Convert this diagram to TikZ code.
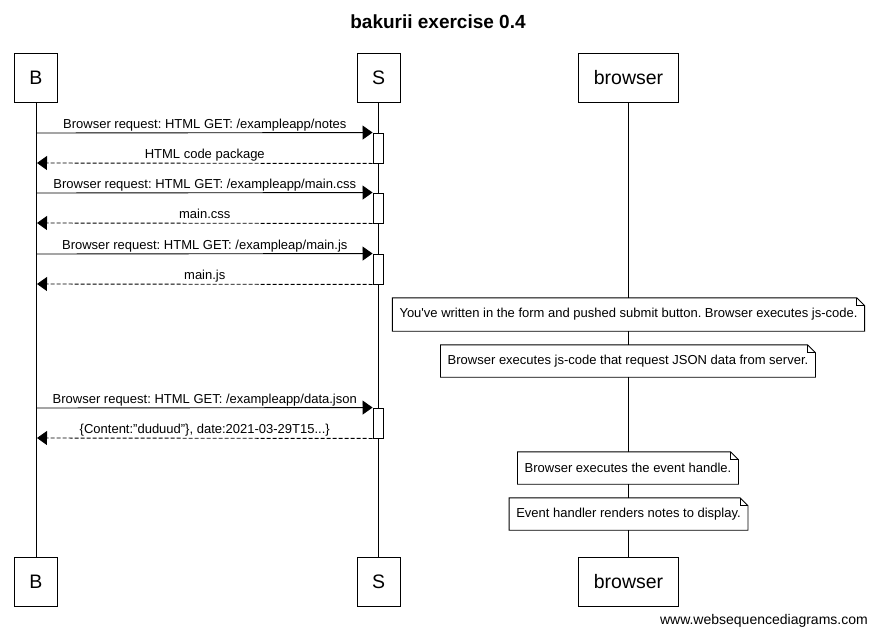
\documentclass[tikz,border=0pt]{standalone}
\usepackage{fontspec}
\setmainfont{Liberation Sans}
\frenchspacing
\usetikzlibrary{arrows.meta}

\tikzset{
  actor/.style={draw, line width=1pt, minimum height=49pt, inner xsep=15pt, font=\fontsize{19.5}{22}\selectfont},
  msg/.style={line width=0.9pt, -{Triangle[length=10pt,width=14pt]}},
  reply/.style={msg, dash pattern=on 4pt off 2pt},
  lbl/.style={font=\fontsize{13}{15}\selectfont, inner sep=1pt, text depth=3pt},
  act/.style={draw, fill=white, line width=0.9pt, minimum width=10pt, minimum height=30pt, inner sep=0pt},
  note/.style={fill=white, font=\fontsize{13}{15}\selectfont, minimum height=33pt, inner xsep=7pt}
}
% Umriss einer Notiz mit Eselsohr
\newcommand{\notefold}[1]{%
  \draw[line width=0.9pt] (#1.south west) -- (#1.north west) -- ([xshift=-8pt]#1.north east)
    -- ([yshift=-8pt]#1.north east) -- (#1.south east) -- cycle;
  \draw[line width=0.9pt] ([xshift=-8pt]#1.north east) |- ([yshift=-8pt]#1.north east);
}

\begin{document}
\begin{tikzpicture}[x=1pt, y=-1pt]
  \useasboundingbox (0,0) rectangle (876,640);

  % Titel
  \node[font=\bfseries\fontsize{19}{22}\selectfont] (title) at (438,22) {bakurii exercise 0.4};

  % Teilnehmer oben und unten
  \node[actor] (Btop) at (36,77.5) {B};
  \node[actor] (Stop) at (378.5,77.5) {S};
  \node[actor] (Wtop) at (628.5,77.5) {browser};
  \node[actor] (Bbot) at (36,581.5) {B};
  \node[actor] (Sbot) at (378.5,581.5) {S};
  \node[actor] (Wbot) at (628.5,581.5) {browser};

  % Lebenslinien
  \draw[line width=0.9pt] (Btop) -- (Bbot);
  \draw[line width=0.9pt] (Stop) -- (Sbot);
  \draw[line width=0.9pt] (Wtop) -- (Wbot);

  % Anfrage: notes
  \coordinate (b1) at (37,133);
  \coordinate (b2) at (37,163);
  \node[act] (s1) at (378,148) {};
  \draw[msg] (b1) -- (s1.north west) node[lbl, midway, above] {Browser request: HTML GET: /exampleapp/notes};
  \draw[reply] (s1.south west) -- (b2) node[lbl, midway, above] {HTML code package};

  % Anfrage: main.css
  \coordinate (b3) at (37,193);
  \coordinate (b4) at (37,223);
  \node[act] (s2) at (378,208) {};
  \draw[msg] (b3) -- (s2.north west) node[lbl, midway, above] {Browser request: HTML GET: /exampleapp/main.css};
  \draw[reply] (s2.south west) -- (b4) node[lbl, midway, above] {main.css};

  % Anfrage: main.js
  \coordinate (b5) at (37,254);
  \coordinate (b6) at (37,284);
  \node[act] (s3) at (378,269) {};
  \draw[msg] (b5) -- (s3.north west) node[lbl, midway, above] {Browser request: HTML GET: /exampleap/main.js};
  \draw[reply] (s3.south west) -- (b6) node[lbl, midway, above] {main.js};

  % Notizen am Browser
  \node[note] (n1) at (628.5,314.5) {You\textquotesingle ve written in the form and pushed submit button. Browser executes js-code.};
  \notefold{n1}
  \node[note, minimum height=32pt] (n2) at (628,361) {Browser executes js-code that request JSON data from server.};
  \notefold{n2}

  % Anfrage: data.json
  \coordinate (b7) at (37,408);
  \coordinate (b8) at (37,438);
  \node[act] (s4) at (378,423) {};
  \draw[msg] (b7) -- (s4.north west) node[lbl, midway, above] {Browser request: HTML GET: /exampleapp/data.json};
  \draw[reply] (s4.south west) -- (b8) node[lbl, midway, above] {\{Content:"duduud"\}, date:2021-03-29T15...\}};

  \node[note, minimum height=32pt] (n3) at (628,468) {Browser executes the event handle.};
  \notefold{n3}
  \node[note, minimum height=32pt] (n4) at (628.5,514) {Event handler renders notes to display.};
  \notefold{n4}

  % Fusszeile
  \node[anchor=east, font=\fontsize{14}{16}\selectfont, inner sep=0pt] (footer) at (868,621) {www.websequencediagrams.com};
\end{tikzpicture}
\end{document}
